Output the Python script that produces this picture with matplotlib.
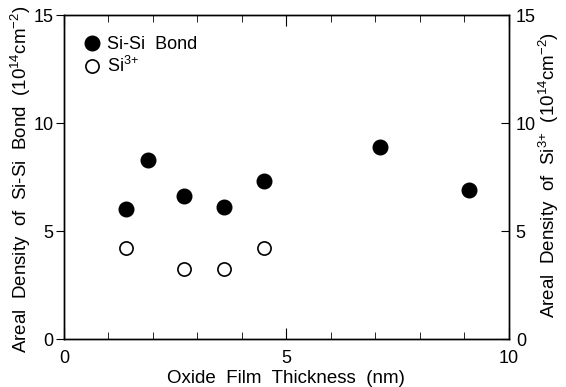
import matplotlib
matplotlib.use("Agg")
import matplotlib.pyplot as plt

plt.rcParams['font.family'] = ['Liberation Sans', 'DejaVu Sans']
plt.rcParams['mathtext.fontset'] = 'custom'
plt.rcParams['mathtext.rm'] = 'Liberation Sans'
plt.rcParams['mathtext.it'] = 'Liberation Sans:italic'

# Si-Si bond areal density vs oxide thickness
thickness_sisi = [1.4, 1.9, 2.7, 3.6, 4.5, 7.1, 9.1]
density_sisi = [6.0, 8.3, 6.6, 6.1, 7.3, 8.9, 6.9]

# Si3+ areal density vs oxide thickness
thickness_si3 = [1.4, 2.7, 3.6, 4.5]
density_si3 = [4.2, 3.25, 3.25, 4.2]

x_ticks = [0, 5, 10]
y_ticks = [0, 5, 10, 15]

FS = 13
FS_LABEL = 13.5
W, H = 566, 387

fig = plt.figure(figsize=(W / 100, H / 100), dpi=100)
ax = fig.add_axes([0.113, 0.124, 0.786, 0.837])

ax.plot(thickness_sisi, density_sisi, 'o', color='black', markersize=10.5,
        linestyle='none', label='Si-Si  Bond')
ax.plot(thickness_si3, density_si3, 'o', markerfacecolor='white',
        markeredgecolor='black', markeredgewidth=1.2, markersize=9.5,
        linestyle='none', label=r'Si$\mathregular{^{3{+}}}$')

ax.set_xlim(0, 10)
ax.set_ylim(0, 15)
ax.set_xticks(x_ticks)
ax.set_xticks(range(0, 11), minor=True)
ax.set_yticks(y_ticks)

for s in ax.spines.values():
    s.set_linewidth(1.0)

ax.tick_params(axis='x', which='both', direction='in', top=True, bottom=True,
               labelsize=FS, pad=8)
ax.tick_params(axis='x', which='major', length=8)
ax.tick_params(axis='x', which='minor', length=5)
ax.tick_params(axis='y', which='major', direction='out', left=True, right=False,
               length=6, labelsize=FS, pad=1.5)

ax2 = ax.twinx()
ax2.set_ylim(0, 15)
ax2.set_yticks(y_ticks)
ax2.tick_params(axis='y', direction='in', length=6, labelsize=FS, pad=5)
for s in ax2.spines.values():
    s.set_linewidth(1.0)

ax.set_xlabel('Oxide  Film  Thickness  (nm)', fontsize=FS_LABEL, labelpad=2)

# axis titles for the two density scales
fig.text(20.5 / W, 1 - 5 / H,
         r'Areal  Density  of  Si-Si  Bond  (10$\mathregular{^{14}}$cm$\mathregular{^{-2}}$)',
         rotation=90, ha='center', va='top', fontsize=FS_LABEL)
fig.text(549 / W, 1 - 32 / H,
         r'Areal  Density  of  Si$\mathregular{^{3{+}}}$  (10$\mathregular{^{14}}$cm$\mathregular{^{-2}}$)',
         rotation=90, ha='center', va='top', fontsize=FS_LABEL)

ax.legend(loc='upper left', frameon=False, fontsize=FS, handletextpad=0.3,
          borderaxespad=0.4, labelspacing=0.15, handlelength=1.0,
          bbox_to_anchor=(0.011, 0.98))

fig.savefig('out.png', dpi=100)
